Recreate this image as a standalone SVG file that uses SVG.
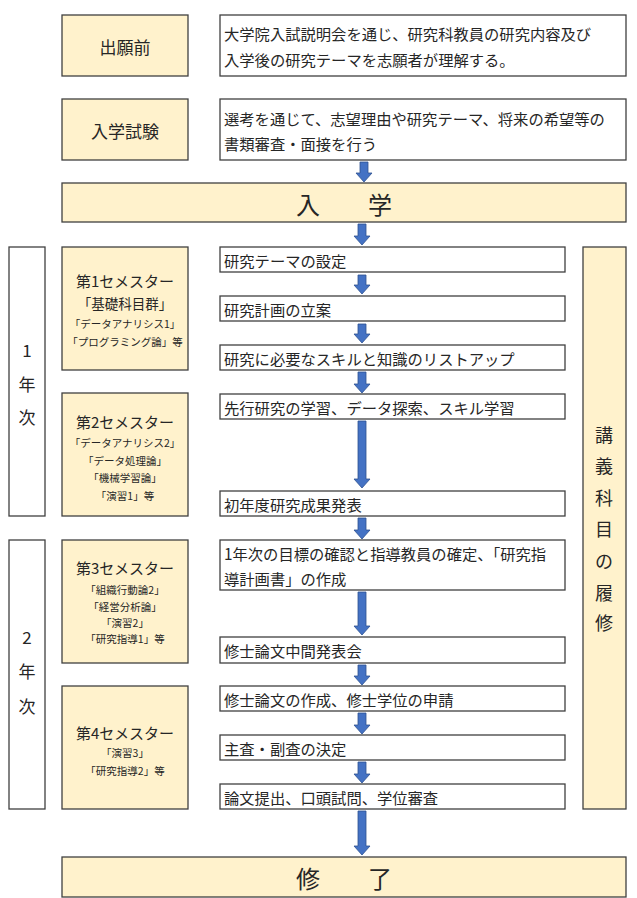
<svg xmlns="http://www.w3.org/2000/svg" width="637" height="898" viewBox="0 0 637 898">
<style>
text{font-family:"Noto Sans CJK JP","Noto Sans",sans-serif;fill:#262626;dominant-baseline:central}
.y{fill:#FFF2CC;stroke:#404040;stroke-width:1.3}
.w{fill:#FFFFFF;stroke:#404040;stroke-width:1.3}
.t{font-size:15.3px}
.h{font-size:17px;text-anchor:middle}
.big{font-size:24px;text-anchor:middle}
.s1{font-size:15px;text-anchor:middle}
.s2{font-size:10.5px;text-anchor:middle}
.v{font-size:17px;text-anchor:middle}
.arr{fill:#4472C4;stroke:#2F528F;stroke-width:0.8}
</style>
<rect width="637" height="898" fill="#FFFFFF"/>

<g id="shutsugan">
<rect class="y" x="62" y="15" width="126" height="61"/>
<text class="h" x="125" y="46">出願前</text>
</g>
<g id="shutsugan-desc">
<rect class="w" x="220" y="15" width="406" height="61"/>
<text class="t" x="224" y="33">大学院入試説明会を通じ、研究科教員の研究内容及び</text>
<text class="t" x="224" y="59">入学後の研究テーマを志願者が理解する。</text>
</g>
<g id="nyushi">
<rect class="y" x="62" y="99" width="126" height="61"/>
<text class="h" x="125" y="130">入学試験</text>
</g>
<g id="nyushi-desc">
<rect class="w" x="220" y="99" width="406" height="61"/>
<text class="t" x="224" y="118">選考を通じて、志望理由や研究テーマ、将来の希望等の</text>
<text class="t" x="224" y="143">書類審査・面接を行う</text>
</g>
<g id="nyugaku">
<rect class="y" x="62" y="183" width="564" height="39"/>
<text class="big" x="344" y="203">入　　学</text>
</g>

<g id="year1">
<rect class="w" x="9" y="247" width="36" height="269"/>
<text class="v" x="27" y="349">1</text>
<text class="v" x="27" y="383">年</text>
<text class="v" x="27" y="416">次</text>
</g>
<g id="year2">
<rect class="w" x="9" y="540" width="36" height="269"/>
<text class="v" x="27" y="636">2</text>
<text class="v" x="27" y="670">年</text>
<text class="v" x="27" y="705">次</text>
</g>
<g id="lecture">
<rect class="y" x="583" y="247" width="43" height="562"/>
<text class="v" x="604" y="434" style="font-size:18px">講</text>
<text class="v" x="604" y="465" style="font-size:18px">義</text>
<text class="v" x="604" y="497" style="font-size:18px">科</text>
<text class="v" x="604" y="528" style="font-size:18px">目</text>
<text class="v" x="604" y="560" style="font-size:18px">の</text>
<text class="v" x="604" y="592" style="font-size:18px">履</text>
<text class="v" x="604" y="622" style="font-size:18px">修</text>
</g>

<g id="sem1">
<rect class="y" x="62" y="247" width="126" height="123"/>
<text class="s1" x="125" y="280">第1セメスター</text>
<text class="s1" x="125" y="303" style="font-size:13.5px">「基礎科目群」</text>
<text class="s2" x="125" y="323">「データアナリシス1」</text>
<text class="s2" x="125" y="341">「プログラミング論」等</text>
</g>
<g id="sem2">
<rect class="y" x="62" y="393" width="126" height="123"/>
<text class="s1" x="125" y="421">第2セメスター</text>
<text class="s2" x="125" y="442">「データアナリシス2」</text>
<text class="s2" x="125" y="460">「データ処理論」</text>
<text class="s2" x="125" y="477">「機械学習論」</text>
<text class="s2" x="125" y="495">「演習1」等</text>
</g>
<g id="sem3">
<rect class="y" x="62" y="540" width="126" height="123"/>
<text class="s1" x="125" y="567">第3セメスター</text>
<text class="s2" x="125" y="589">「組織行動論2」</text>
<text class="s2" x="125" y="606">「経営分析論」</text>
<text class="s2" x="125" y="622">「演習2」</text>
<text class="s2" x="125" y="638">「研究指導1」等</text>
</g>
<g id="sem4">
<rect class="y" x="62" y="686" width="126" height="123"/>
<text class="s1" x="125" y="732">第4セメスター</text>
<text class="s2" x="125" y="752">「演習3」</text>
<text class="s2" x="125" y="770">「研究指導2」等</text>
</g>

<g id="step1">
<rect class="w" x="220" y="247" width="345" height="25"/>
<text class="t" x="224" y="260">研究テーマの設定</text>
</g>
<g id="step2">
<rect class="w" x="220" y="296" width="345" height="25"/>
<text class="t" x="224" y="309">研究計画の立案</text>
</g>
<g id="step3">
<rect class="w" x="220" y="345" width="345" height="25"/>
<text class="t" x="224" y="358">研究に必要なスキルと知識のリストアップ</text>
</g>
<g id="step4">
<rect class="w" x="220" y="394" width="345" height="25"/>
<text class="t" x="224" y="407">先行研究の学習、データ探索、スキル学習</text>
</g>
<g id="step5">
<rect class="w" x="220" y="491" width="345" height="25"/>
<text class="t" x="224" y="504">初年度研究成果発表</text>
</g>
<g id="step6">
<rect class="w" x="220" y="540" width="345" height="50"/>
<text class="t" x="224" y="553">1年次の目標の確認と指導教員の確定、「研究指</text>
<text class="t" x="224" y="578">導計画書」の作成</text>
</g>
<g id="step7">
<rect class="w" x="220" y="637" width="345" height="26"/>
<text class="t" x="224" y="650">修士論文中間発表会</text>
</g>
<g id="step8">
<rect class="w" x="220" y="686" width="345" height="25"/>
<text class="t" x="224" y="699">修士論文の作成、修士学位の申請</text>
</g>
<g id="step9">
<rect class="w" x="220" y="735" width="345" height="25"/>
<text class="t" x="224" y="748">主査・副査の決定</text>
</g>
<g id="step10">
<rect class="w" x="220" y="784" width="345" height="25"/>
<text class="t" x="224" y="797">論文提出、口頭試問、学位審査</text>
</g>

<g id="shuryo">
<rect class="y" x="62" y="857" width="564" height="40"/>
<text class="big" x="344" y="877">修　　了</text>
</g>

<g id="connectors">
<path class="arr" d="M360,162H368V173H372L364,182L356,173H360Z"/>
<path class="arr" d="M358,224H366V236H370L362,245L354,236H358Z"/>
<path class="arr" d="M358,275H366V285H370L362,294L354,285H358Z"/>
<path class="arr" d="M358,324H366V334H370L362,343L354,334H358Z"/>
<path class="arr" d="M358,372H366V384H370L362,393L354,384H358Z"/>
<path class="arr" d="M358,421H366V479H370L362,488L354,479H358Z"/>
<path class="arr" d="M358,518H366V530H370L362,539L354,530H358Z"/>
<path class="arr" d="M358,592H366V626H370L362,635L354,626H358Z"/>
<path class="arr" d="M358,665H366V676H370L362,685L354,676H358Z"/>
<path class="arr" d="M358,713H366V725H370L362,734L354,725H358Z"/>
<path class="arr" d="M358,762H366V774H370L362,783L354,774H358Z"/>
<path class="arr" d="M358,811H366V846H370L362,855L354,846H358Z"/>
</g>
</svg>
